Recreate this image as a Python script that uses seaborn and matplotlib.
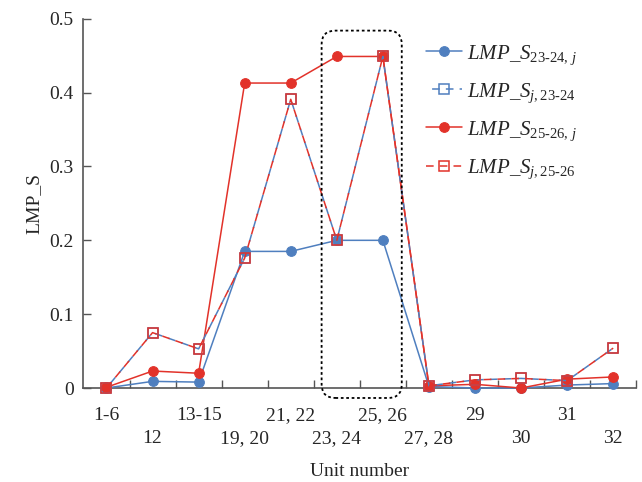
import matplotlib
matplotlib.use('Agg')
import matplotlib.pyplot as plt
import seaborn as sns
from matplotlib.patches import FancyBboxPatch

# Data
units = ['1-6', '12', '13-15', '19, 20', '21, 22', '23, 24', '25, 26',
         '27, 28', '29', '30', '31', '32']
s_2324_j = [0.0, 0.009, 0.008, 0.185, 0.185, 0.200, 0.200, 0.002, 0.0, 0.0, 0.004, 0.006]
s_j_2324 = [0.0, 0.075, 0.053, 0.176, 0.391, 0.200, 0.449, 0.003, 0.011, 0.013, 0.010, 0.054]
s_2526_j = [0.001, 0.023, 0.020, 0.413, 0.413, 0.449, 0.449, 0.003, 0.005, 0.0, 0.012, 0.015]
s_j_2526 = [0.0, 0.075, 0.053, 0.176, 0.391, 0.200, 0.449, 0.003, 0.011, 0.013, 0.010, 0.054]

sns.set_theme(style='ticks')
plt.rcParams['font.family'] = ['Liberation Serif', 'DejaVu Serif']
plt.rcParams['mathtext.fontset'] = 'custom'
plt.rcParams['mathtext.rm'] = 'Liberation Serif'
plt.rcParams['mathtext.it'] = 'Liberation Serif:italic'

blue = '#4f7fbf'
red = '#e2322a'
x = list(range(len(units)))

fig = plt.figure(figsize=(6.42, 4.82), dpi=100)
ax = fig.add_axes([0.130, 0.195, 0.861, 0.766])

sns.lineplot(x=x, y=s_2324_j, ax=ax, color=blue, lw=1.1, marker='o', ms=7,
             mec=blue, mfc=blue, clip_on=False, zorder=3,
             label=r'$LMP\_S_{\mathrm{23\text{-}24},\,j}$')
sns.lineplot(x=x, y=s_j_2324, ax=ax, color=blue, lw=1.1, marker='s', ms=7,
             mec=blue, mfc='none', mew=1.1, linestyle=(5, (5, 4)), clip_on=False, zorder=4,
             label=r'$LMP\_S_{j,\mathrm{23\text{-}24}}$')
sns.lineplot(x=x, y=s_2526_j, ax=ax, color=red, lw=1.1, marker='o', ms=7,
             mec=red, mfc=red, clip_on=False, zorder=3,
             label=r'$LMP\_S_{\mathrm{25\text{-}26},\,j}$')
sns.lineplot(x=x, y=s_j_2526, ax=ax, color=red, lw=1.1, marker='s', ms=7,
             mec=red, mfc='none', mew=1.1, linestyle=(0, (5, 4)), clip_on=False, zorder=5,
             label=r'$LMP\_S_{j,\mathrm{25\text{-}26}}$')

# dotted rounded box around units 23-26
box = FancyBboxPatch((4.67, -0.0135), 1.74, 0.4975,
                     boxstyle='round,pad=0,rounding_size=0.3',
                     mutation_aspect=46 / 740, fill=False, ec='black',
                     lw=1.3, ls=(0, (1.5, 1.5)), clip_on=False, zorder=6)
ax.add_patch(box)

ax.set_xlim(-0.5, 11.5)
ax.set_ylim(0, 0.5)
ax.set_xticks(x)
ax.set_xticklabels([u if i % 2 == 0 else '\n' + u for i, u in enumerate(units)],
                   fontsize=14, linespacing=1.45)
ax.set_xticks([i + 0.5 for i in x], minor=True)
ax.tick_params(axis='x', which='major', length=0, pad=14)
ax.tick_params(axis='x', which='minor', direction='in', length=6, width=1, color='#555555')
ax.set_yticks([0, 0.1, 0.2, 0.3, 0.4, 0.5])
ax.set_yticklabels(['0', '0.1', '0.2', '0.3', '0.4', '0.5'], fontsize=14)
ax.tick_params(axis='y', direction='in', length=6, width=1, color='#555555', pad=7)

for s in ['top', 'right']:
    ax.spines[s].set_visible(False)
for s in ['left', 'bottom']:
    ax.spines[s].set_color('#555555')
    ax.spines[s].set_linewidth(1.2)

ax.set_xlabel('Unit number', fontsize=14, labelpad=11)
ax.set_ylabel('LMP_S', fontsize=14, labelpad=5)

ax.legend(loc='upper left', bbox_to_anchor=(0.585, 0.985), frameon=False,
          fontsize=15, handlelength=1.75, labelspacing=0.7, handletextpad=0.25)

fig.savefig('out.png', dpi=100)
